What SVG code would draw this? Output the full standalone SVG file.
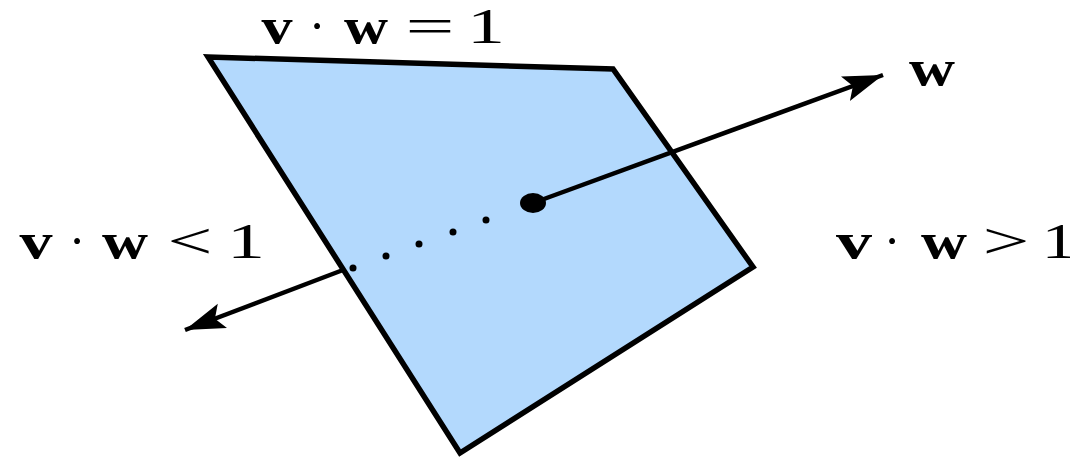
<svg xmlns="http://www.w3.org/2000/svg" width="1070" height="457" viewBox="0 0 1070 457">
<style>
.lbl{font-family:"Liberation Serif","Times New Roman",serif;font-size:50px;fill:#000;text-anchor:middle}
.b{font-weight:bold}
.edge{stroke:#000;stroke-width:4.5;fill:none}
</style>
<defs>
<marker id="ah" markerUnits="userSpaceOnUse" markerWidth="44" markerHeight="28" refX="40" refY="13" orient="auto">
<path d="M0,0 L40,13 L0,26 L8,13 Z" fill="#000"/>
</marker>
</defs>
<rect width="1070" height="457" fill="#fff"/>
<g id="plane">
<polygon points="208,57 613,69 753,267 460,453" fill="#b3d9fd" stroke="#000" stroke-width="5.5" stroke-linejoin="miter"/>
</g>
<g id="connectors">
<line class="edge" x1="533" y1="203" x2="883" y2="75" marker-end="url(#ah)"/>
<line class="edge" x1="343" y1="270" x2="185" y2="330" marker-end="url(#ah)"/>
<g fill="#000">
<circle cx="353" cy="268" r="3.5"/>
<circle cx="386" cy="256" r="3.5"/>
<circle cx="419" cy="244" r="3.5"/>
<circle cx="453" cy="232" r="3.5"/>
<circle cx="486" cy="220" r="3.5"/>
</g>
<ellipse cx="533" cy="203" rx="13" ry="10" fill="#000"/>
</g>
<g id="label-top">
<text class="lbl b" x="277" y="43" textLength="31" lengthAdjust="spacingAndGlyphs">v</text>
<text class="lbl" x="317" y="43">·</text>
<text class="lbl b" x="366" y="43" textLength="44" lengthAdjust="spacingAndGlyphs">w</text>
<text class="lbl" x="430" y="43" textLength="49" lengthAdjust="spacingAndGlyphs">=</text>
<text class="lbl" x="486" y="43" textLength="38" lengthAdjust="spacingAndGlyphs">1</text>
</g>
<g id="label-w">
<text class="lbl b" x="932" y="85" textLength="46" lengthAdjust="spacingAndGlyphs">w</text>
</g>
<g id="label-left">
<text class="lbl b" x="36" y="258" textLength="33" lengthAdjust="spacingAndGlyphs">v</text>
<text class="lbl" x="77" y="258">·</text>
<text class="lbl b" x="125" y="258" textLength="46" lengthAdjust="spacingAndGlyphs">w</text>
<text class="lbl" x="190" y="258" textLength="45" lengthAdjust="spacingAndGlyphs">&lt;</text>
<text class="lbl" x="246" y="258" textLength="38" lengthAdjust="spacingAndGlyphs">1</text>
</g>
<g id="label-right">
<text class="lbl b" x="854" y="258" textLength="36" lengthAdjust="spacingAndGlyphs">v</text>
<text class="lbl" x="892" y="258">·</text>
<text class="lbl b" x="944" y="258" textLength="46" lengthAdjust="spacingAndGlyphs">w</text>
<text class="lbl" x="1006" y="258" textLength="47" lengthAdjust="spacingAndGlyphs">&gt;</text>
<text class="lbl" x="1059" y="258" textLength="35" lengthAdjust="spacingAndGlyphs">1</text>
</g>
</svg>
